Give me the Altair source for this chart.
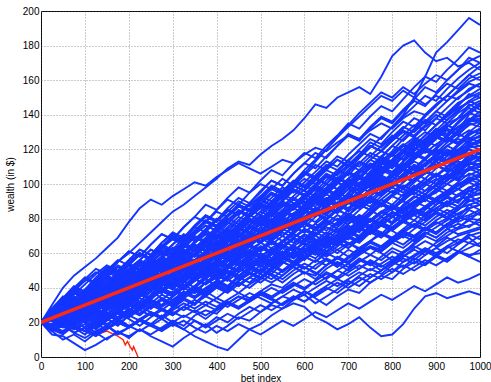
import altair as alt
import pandas as pd

# bet index sample points (every 25 bets)
BET_INDEX = [0, 25, 50, 75, 100, 125, 150, 175, 200, 225, 250, 275, 300, 325, 350,
             375, 400, 425, 450, 475, 500, 525, 550, 575, 600, 625, 650, 675, 700,
             725, 750, 775, 800, 825, 850, 875, 900, 925, 950, 975, 1000]

# wealth paths (blue walks)
T1 = [20,24,29,27,33, 38,36,43,47,45, 52,55,53,60,58, 64,69,66,72,78, 76,83,88,86,93, 98,104,101,108,115, 121,127,133,140,150, 162,176,182,189,196, 192]
T2 = [20,27,33,38,44, 49,47,55,60,66, 72,78,84,88,93, 98,103,109,113,111, 117,122,126,131,138, 146,144,150,153,156, 152,162,174,180,183, 176,171,173,168,170, 166]
T3 = [20,30,40,47,52, 57,63,69,78,86, 91,88,93,97,101, 99,104,108,112,109, 106,110,114,112,117, 121,119,124,128,126, 131,135,132,138,142, 140,146,151,149,155, 158]
B1 = [20,16,19,14,11, 15,18,14,17,21, 18,15,19,16,12, 9,6,4,10,16, 19,24,28,31,29, 23,20,16,19,23, 17,12,13,19,28, 35,37,34,36,38, 36]
L1 = [20,13,12,8,4, 7,11,14,12,16, 13,17,21,18,24, 27,25,31,35,33, 38,42,40,45,49, 47,53,57,55,61, 64,62,67,71,69, 74,72,77,81,79, 84]
L2 = [20,15,10,13,9, 14,10,15,11,16, 12,9,6,11,15, 19,14,18,23,21, 26,30,28,33,36, 31,35,39,44,41, 46,50,55,52,57, 54,59,56,61,58, 55]
L3 = [20,17,21,16,19, 14,18,13,17,22, 19,24,20,16,21, 18,23,20,25,29, 26,31,35,33,38, 34,30,35,39,37, 43,47,45,51,55, 53,58,56,61,59, 60]
L4 = [20,22,18,23,20, 16,21,25,22,18, 23,27,24,29,26, 22,27,31,28,33, 37,34,30,35,32, 37,41,45,42,47, 51,48,53,57,54, 59,63,60,65,69, 64]
W01 = [20,23,19,25,28, 24,29,33,30,35, 38,34,31,36,40, 37,42,45,41,46, 50,47,43,48,52, 49,45,50,54,51, 56,53,49,55,58, 62,59,64,61,66, 64]
W02 = [20,26,31,29,36, 40,37,43,47,44, 41,46,43,39,44, 48,45,41,37,42, 46,43,47,52,49, 45,51,55,52,57, 54,50,55,59,56, 61,58,63,66,71, 68]
W03 = [20,17,22,19,15, 20,24,21,27,31, 28,34,30,35,39, 36,41,38,44,49, 46,51,55,52,48, 53,57,54,50,55, 59,56,61,58,63, 67,64,69,66,70, 72]
W04 = [20,24,21,26,30, 27,23,28,33,37, 34,39,43,48,45, 51,55,52,57,61, 58,54,50,55,52, 48,53,57,54,59, 63,60,56,61,65, 70,67,72,75,79, 76]
W05 = [20,15,19,23,20, 25,22,18,24,28, 33,30,35,40,37, 43,47,44,49,53, 50,56,60,57,62, 59,65,62,58,63, 67,64,69,73,70, 75,72,77,74,80, 79]
W06 = [20,23,27,32,29, 35,40,37,42,39, 45,42,47,52,49, 45,50,46,51,55, 52,57,61,58,63, 60,56,52,57,61, 66,63,68,72,69, 74,78,75,79,85, 82]
W07 = [20,18,14,19,24, 21,26,23,28,25, 30,27,32,37,34, 39,44,41,47,51, 48,54,58,55,61, 66,63,69,65,70, 75,72,68,73,77, 74,79,83,80,88, 85]
W08 = [20,25,30,27,33, 37,42,39,45,50, 47,53,57,54,60, 64,61,57,62,59, 55,60,56,61,66, 63,68,65,70,74, 71,76,73,69,74, 78,83,80,85,91, 88]
W09 = [20,22,19,24,21, 17,22,26,31,28, 34,38,35,41,45, 42,48,52,49,54, 58,55,61,57,62, 67,64,60,65,69, 73,70,75,79,76, 82,86,83,87,93, 90]
W10 = [20,26,31,37,34, 40,46,43,50,55, 52,58,63,60,66, 71,68,74,79,76, 82,79,75,80,77, 73,78,74,70,75, 79,76,81,85,82, 87,84,89,94,90, 92]
W11 = [20,21,25,30,27, 24,29,33,30,36, 40,44,41,47,52, 49,46,51,56,60, 57,53,58,64,61, 66,70,67,73,78, 75,81,77,82,86, 83,88,92,89,96, 94]
W12 = [20,16,21,25,22, 27,31,28,24,29, 34,38,35,41,46, 51,48,53,50,56, 60,57,63,68,65, 61,66,71,68,74, 79,76,81,85,82, 87,91,88,94,98, 96]
W13 = [20,24,28,25,31, 36,33,38,43,47, 44,49,54,58,56, 61,66,63,69,74, 79,76,82,86,90, 87,92,89,84,88, 85,81,86,90,87, 92,95,100,97,101, 98]
W14 = [20,19,23,20,26, 31,35,32,37,42, 39,44,40,36,41, 38,34,39,43,40, 45,50,47,53,58, 55,61,66,63,69, 74,71,77,82,79, 85,90,94,97,103, 100]
W15 = [20,27,24,29,35, 32,37,42,39,35, 40,44,41,46,51, 48,53,57,54,59, 64,61,67,71,68, 74,79,76,81,78, 84,88,85,91,95, 92,97,94,99,104, 102]
W16 = [20,23,20,16,21, 25,22,27,32,29, 35,40,37,43,48, 45,51,56,53,58, 63,60,66,71,68, 74,71,77,82,79, 84,89,86,92,97, 94,99,96,101,106, 104]
W17 = [20,25,29,34,31, 37,41,38,44,49, 53,57,54,60,65, 62,67,64,60,65, 61,66,63,59,64, 68,65,71,76,73, 79,84,81,87,92, 96,99,102,107,109, 106]
W18 = [20,18,22,27,24, 29,34,38,35,41, 38,43,47,44,50, 55,52,58,63,60, 66,71,67,73,77, 74,80,85,82,88, 85,91,96,93,98, 103,100,105,102,110, 108]
W19 = [20,23,28,32,37, 34,40,45,42,48, 53,50,56,61,58, 64,60,66,71,68, 73,78,75,81,85, 82,88,84,89,94, 91,96,101,98,103, 100,105,109,106,112, 110]
W20 = [20,16,20,17,13, 18,22,19,24,21, 26,23,28,33,30, 36,41,38,44,49, 46,52,57,54,60, 66,63,70,75,72, 79,84,81,88,93, 90,97,102,107,113, 111]
W21 = [20,28,33,30,37, 42,39,46,51,48, 54,51,57,62,59, 56,62,59,65,70, 67,73,70,76,81, 78,84,89,86,92, 89,95,100,97,103, 108,105,110,115,118, 113]
W22 = [20,22,26,23,29, 33,30,36,40,37, 43,48,45,51,56, 53,59,64,61,67, 72,69,75,80,77, 83,79,85,90,87, 93,98,95,101,106, 103,109,113,110,117, 115]
W23 = [20,17,21,26,31, 28,33,38,35,41, 46,43,49,54,51, 57,62,59,65,70, 67,73,78,75,81, 86,83,89,94,91, 97,94,100,105,102, 108,113,110,115,120, 117]
W24 = [20,27,34,31,38, 44,41,48,53,50, 57,62,59,65,71, 76,73,79,85,82, 88,94,91,97,93, 99,95,101,98,94, 99,104,101,97,102, 107,111,108,114,120, 118]
W25 = [20,24,21,26,31, 36,33,29,34,39, 44,41,47,52,49, 55,61,58,64,69, 66,72,77,74,80, 86,83,89,94,91, 97,103,100,106,111, 108,114,118,115,122, 120]
W26 = [20,25,22,28,33, 30,36,41,46,43, 49,54,51,57,62, 59,65,61,67,72, 69,75,80,77,83, 89,86,92,97,94, 100,105,102,108,113, 110,116,120,117,124, 122]
W27 = [20,21,26,30,27, 33,38,35,41,45, 42,48,53,50,56, 61,58,64,70,67, 73,78,75,81,87, 84,90,95,92,98, 103,100,106,112,109, 115,119,116,122,127, 124]
W28 = [20,18,15,20,25, 22,27,32,29,35, 40,37,43,48,45, 51,56,53,59,65, 62,68,74,71,77, 83,80,86,92,89, 95,101,98,104,110, 107,113,118,115,122, 125]
W29 = [20,26,31,37,34, 40,46,43,49,54, 51,57,63,60,66, 71,68,74,70,76, 81,78,84,89,86, 92,97,94,100,105, 102,108,113,110,116, 121,118,124,129,126, 127]
W30 = [20,23,27,24,30, 35,32,38,44,41, 47,52,49,55,60, 57,63,69,66,72, 77,74,80,86,83, 89,94,91,97,103, 100,106,111,108,114, 119,116,122,127,131, 129]
W31 = [20,19,24,29,26, 32,37,42,39,45, 50,47,53,58,55, 61,67,64,70,75, 72,78,84,81,87, 92,89,95,101,98, 104,110,107,113,118, 115,121,126,123,129, 131]
W32 = [20,28,25,31,38, 35,42,47,44,50, 56,53,60,65,62, 68,73,70,76,82, 79,85,90,87,93, 99,96,102,107,104, 110,115,112,118,123, 120,126,131,128,135, 133]
W33 = [20,24,29,26,32, 38,35,41,47,44, 50,56,53,59,65, 62,68,73,70,76, 82,79,85,91,88, 94,100,97,103,108, 105,111,117,114,120, 125,122,128,133,138, 135]
W34 = [20,22,27,32,29, 35,41,38,44,50, 47,53,59,56,62, 68,65,71,77,74, 80,85,82,88,94, 91,97,103,100,106, 111,108,114,120,117, 123,128,125,131,136, 137]
W35 = [20,27,33,30,36, 42,39,45,51,48, 54,60,57,63,69, 66,72,78,75,81, 87,84,90,96,93, 99,105,102,108,113, 110,116,122,119,125, 130,127,133,138,141, 139]
W36 = [20,25,31,38,35, 41,47,44,51,56, 62,59,65,70,67, 73,79,85,82,88, 93,90,96,101,98, 104,100,106,111,108, 114,119,116,122,127, 124,130,135,138,144, 141]
W37 = [20,16,21,18,23, 27,24,30,35,32, 38,43,40,46,52, 49,55,61,58,65, 71,68,75,81,78, 85,91,88,95,101, 98,105,111,108,115, 121,127,133,138,146, 143]
W38 = [20,28,35,32,39, 46,52,49,56,62, 59,66,71,68,75, 81,78,84,90,87, 93,99,96,102,99, 105,111,108,114,119, 116,113,118,123,120, 126,131,137,142,148, 145]
W39 = [20,23,19,25,30, 27,33,39,36,42, 48,45,51,57,54, 60,66,63,69,75, 72,78,84,81,87, 93,90,96,102,99, 105,111,117,114,120, 126,132,129,136,142, 147]
W40 = [20,26,23,29,35, 41,38,45,51,48, 55,61,58,64,70, 67,74,80,77,83, 89,86,93,99,96, 102,108,105,111,117, 124,121,127,133,130, 136,142,139,145,152, 150]
W41 = [20,22,27,33,30, 36,42,48,45,51, 57,54,60,66,63, 69,75,72,79,85, 82,88,94,91,97, 103,100,107,113,110, 116,122,128,125,131, 137,134,141,147,150, 153]
W42 = [20,24,21,27,32, 29,35,40,37,43, 48,45,51,57,54, 60,66,72,69,76, 82,89,95,101,108, 114,120,127,133,139, 145,151,148,154,150, 146,151,148,153,158, 156]
W43 = [20,27,33,40,46, 43,50,56,53,60, 57,63,69,66,72, 78,75,82,88,85, 92,98,95,101,107, 104,110,116,113,120, 126,123,130,136,133, 140,146,151,157,163, 160]
W44 = [20,25,30,36,42, 48,53,50,56,62, 59,66,72,69,76, 82,79,86,92,89, 96,102,99,106,112, 118,115,122,128,125, 132,138,135,142,148, 145,152,158,155,161, 164]
W45 = [20,23,28,34,31, 37,43,49,46,53, 59,65,62,69,75, 72,79,85,82,89, 95,102,99,106,112, 109,116,122,129,126, 133,139,136,143,149, 156,153,160,166,173, 170]
W46 = [20,26,32,39,45, 51,48,55,61,58, 65,71,68,75,81, 88,85,92,98,95, 102,108,105,112,118, 115,122,128,135,132, 139,145,142,149,156, 162,159,166,172,179, 176]
X01 = [20,25,22,18,24, 29,33,30,27,32, 38,43,40,36,41, 47,52,49,45,50, 56,61,58,64,60, 57,63,68,73,70, 76,81,78,84,89, 94,99,104,110,115, 118]
X02 = [20,27,31,38,35, 41,46,52,49,55, 51,47,53,58,55, 60,57,53,58,62, 59,55,60,64,61, 66,70,67,63,68, 72,77,74,79,84, 81,86,90,87,92, 95]
X03 = [20,16,13,18,15, 19,24,21,26,31, 28,33,38,35,41, 46,51,48,54,59, 64,61,67,72,77, 74,80,85,90,87, 93,98,104,101,107, 112,117,122,119,126, 130]
X04 = [20,23,28,25,31, 27,33,38,34,30, 36,41,46,43,49, 45,41,47,52,57, 54,60,65,62,58, 64,69,66,72,77, 74,79,84,81,87, 92,96,100,104,105, 108]
X05 = [20,26,33,30,37, 43,40,47,53,50, 57,63,60,66,72, 78,84,81,87,85, 91,88,94,99,96, 93,98,104,101,107, 112,109,114,120,126, 123,129,134,131,137, 140]
X06 = [20,24,28,33,30, 26,31,36,41,38, 44,49,46,42,38, 43,48,45,41,46, 51,48,54,59,56, 62,67,64,70,75, 72,78,83,80,86, 91,88,93,97,94, 100]
X07 = [20,18,23,28,25, 31,36,33,29,35, 40,45,42,48,53, 50,56,53,59,64, 70,67,73,78,75, 81,86,83,89,94, 100,97,102,108,105, 111,116,113,119,123, 125]
X08 = [20,23,19,25,30, 27,33,38,35,40, 46,43,49,54,51, 57,62,59,65,70, 67,73,70,66,71, 68,64,69,66,62, 67,72,69,74,79, 76,81,85,82,86, 88]
X09 = [20,25,21,27,33, 30,36,41,38,44, 50,47,53,58,55, 61,67,64,70,76, 73,79,85,82,88, 94,91,97,103,100, 107,113,110,116,122, 128,134,139,144,147, 150]
X10 = [20,22,26,31,28, 34,30,26,31,36, 33,39,44,41,47, 52,49,55,60,57, 63,60,66,71,68, 74,79,76,82,78, 84,89,86,92,97, 94,100,105,102,109, 112]
X11 = [20,28,34,31,38, 44,41,48,54,51, 58,64,61,67,73, 79,76,82,88,85, 91,87,93,89,86, 91,88,94,99,96, 101,98,104,109,106, 111,115,112,118,121, 122]
X12 = [20,15,18,14,17, 21,18,23,27,24, 29,34,31,36,41, 38,44,49,46,52, 57,54,59,64,61, 66,63,68,72,69, 74,78,75,80,84, 81,86,90,87,93, 97]
X13 = [20,24,29,26,32, 37,34,40,45,42, 48,45,51,56,53, 59,64,61,67,72, 69,75,81,78,84, 90,87,93,99,96, 102,108,105,111,117, 114,120,126,123,130, 135]
X14 = [20,23,27,24,29, 33,30,35,32,37, 41,38,43,39,44, 48,45,50,47,52, 56,53,49,54,58, 55,60,57,62,59, 64,61,66,70,67, 72,69,74,77,75, 80]
X15 = [20,17,22,19,24, 21,27,32,29,35, 41,38,44,50,47, 54,60,57,63,69, 66,73,79,76,83, 89,86,93,99,96, 103,109,106,113,119, 125,131,128,135,141, 145]
X16 = [20,25,30,27,23, 28,33,38,35,41, 46,43,48,54,51, 56,61,58,64,69, 66,72,77,74,80, 85,82,88,85,91, 96,93,99,104,101, 107,104,110,113,111, 115]
X17 = [20,21,25,29,26, 31,35,32,37,41, 38,43,48,45,50, 55,52,57,61,58, 63,67,64,69,73, 70,75,72,77,81, 78,83,87,84,89, 93,90,95,99,101, 105]
X18 = [20,26,23,29,34, 40,37,43,48,45, 51,56,53,58,64, 61,66,72,69,74, 80,77,83,88,85, 91,96,93,99,104, 101,107,112,109,115, 120,117,122,126,124, 128]
X19 = [20,24,29,34,39, 36,42,47,44,50, 47,43,48,44,40, 45,41,46,51,48, 53,50,56,61,58, 63,60,66,70,67, 72,76,73,78,82, 79,84,88,85,90, 92]
X20 = [20,22,27,32,29, 35,40,46,43,49, 54,51,57,62,59, 65,70,67,73,78, 84,81,87,92,89, 95,100,97,103,108, 114,111,117,122,119, 125,130,127,133,136, 138]
X21 = [20,19,24,21,26, 31,28,33,38,35, 40,37,43,48,45, 51,56,53,59,64, 61,66,63,69,74, 71,77,82,79,85, 90,87,93,90,96, 100,97,102,106,108, 110]
X22 = [20,24,21,25,30, 35,32,37,42,46, 43,48,53,50,55, 60,57,62,67,64, 69,65,70,75,72, 77,82,79,85,90, 87,93,98,95,101, 106,111,108,114,117, 120]
X23 = [20,26,32,38,35, 42,47,44,51,56, 53,58,55,60,64, 61,66,63,68,65, 70,67,72,69,74, 71,76,80,77,82, 79,84,88,85,90, 87,92,96,93,98, 100]
X24 = [20,23,20,25,30, 35,32,38,43,40, 46,51,57,54,60, 65,62,68,74,71, 77,83,80,86,92, 89,95,101,98,104, 110,107,113,119,116, 122,128,125,131,137, 142]
X25 = [20,18,22,19,23, 20,25,22,27,31, 28,33,29,34,38, 35,40,37,42,46, 43,48,45,50,54, 51,56,53,58,62, 59,64,68,65,70, 74,71,76,80,82, 85]
X26 = [20,25,29,34,31, 37,33,39,44,41, 47,52,49,55,51, 57,62,59,65,70, 67,73,78,75,81, 86,83,89,94,91, 97,102,99,105,110, 107,113,118,115,121, 126]
X27 = [20,22,27,24,30, 35,41,38,44,50, 47,53,59,56,62, 67,64,70,75,72, 78,74,79,76,72, 77,73,78,83,80, 86,91,88,94,99, 96,102,106,103,109, 112]
X28 = [20,17,21,26,23, 29,34,31,37,42, 39,45,51,48,54, 59,56,62,68,65, 71,76,73,79,85, 82,88,93,90,96, 102,99,105,111,108, 114,120,117,123,128, 132]
X29 = [20,24,28,25,30, 34,31,36,33,38, 42,39,44,48,45, 50,47,52,56,53, 58,62,59,55,60, 64,61,66,70,67, 72,69,74,78,75, 80,84,81,86,88, 90]
X30 = [20,16,19,23,20, 17,22,26,23,28, 33,30,35,40,37, 43,48,45,51,56, 53,59,64,61,67, 72,69,75,80,77, 83,88,85,91,96, 101,106,103,109,114, 118]
X31 = [20,25,22,27,32, 29,35,31,36,41, 45,42,47,52,49, 54,59,56,61,57, 62,67,64,69,66, 71,75,72,77,82, 79,84,81,86,90, 94,91,96,100,102, 104]
X32 = [20,27,34,40,37, 44,50,47,54,60, 57,64,70,67,73, 79,76,82,88,85, 91,97,94,100,106, 103,109,114,111,117, 122,119,125,130,127, 133,138,135,141,145, 148]
X33 = [20,23,18,22,26, 23,28,25,30,34, 31,36,33,38,35, 40,44,41,46,43, 48,45,50,54,51, 56,53,58,55,60, 64,61,66,63,68, 72,69,74,71,73, 75]
X34 = [20,26,31,28,34, 39,36,41,46,43, 48,53,50,55,60, 57,62,59,64,69, 66,71,76,73,78, 75,80,85,82,87, 92,89,94,99,96, 101,106,103,108,113, 116]
X35 = [20,21,17,22,27, 32,29,35,40,37, 43,48,45,51,56, 53,59,65,62,68, 73,70,76,81,78, 84,90,87,93,98, 95,101,106,103,109, 114,111,116,120,122, 124]
X36 = [20,24,29,26,22, 27,31,28,33,37, 34,39,43,40,45, 49,46,51,55,52, 57,54,59,63,60, 65,69,66,71,75, 72,77,81,78,83, 87,84,89,93,96, 98]
X37 = [20,25,31,28,34, 40,37,43,49,46, 52,49,55,61,58, 64,70,67,73,79, 76,82,88,85,91, 97,94,100,106,103, 109,115,112,118,124, 121,127,132,129,134, 136]
X38 = [20,24,27,32,29, 35,40,37,43,48, 45,51,56,53,59, 64,61,67,72,69, 75,80,77,83,88, 85,90,95,92,88, 93,89,94,99,96, 101,105,102,108,111, 114]
X39 = [20,19,23,28,25, 31,36,33,38,43, 40,46,51,48,54, 59,56,62,67,64, 70,76,73,79,84, 81,87,92,89,95, 101,98,104,109,106, 112,117,114,120,125, 128]
X40 = [20,23,26,22,27, 31,28,34,39,36, 41,46,43,48,44, 49,54,51,56,61, 58,63,60,65,70, 67,72,69,74,79, 76,81,86,83,88, 93,90,95,100,103, 106]
X41 = [20,17,14,18,15, 12,16,20,17,22, 26,23,29,34,31, 37,43,40,46,52, 49,55,61,58,64, 70,67,73,79,76, 82,88,85,91,97, 103,100,106,111,116, 120]
X42 = [20,26,30,27,32, 36,33,38,42,39, 44,48,45,50,54, 51,56,60,57,62, 66,63,67,64,68, 65,70,74,71,76, 80,77,81,85,82, 86,90,87,91,93, 94]
X43 = [20,22,26,31,28, 34,39,36,42,48, 45,51,57,54,60, 66,63,69,75,72, 78,84,81,87,92, 89,95,101,98,104, 110,107,113,118,115, 121,127,124,130,136, 140]
X44 = [20,27,33,39,36, 43,49,46,53,59, 56,63,69,66,72, 78,75,81,87,84, 90,95,92,98,103, 100,105,102,107,112, 109,114,111,116,121, 118,123,127,124,129, 132]
X45 = [20,21,24,20,24, 28,25,30,34,31, 35,39,36,41,45, 42,46,50,47,51, 55,52,56,60,57, 61,58,62,66,63, 67,71,68,72,76, 73,77,80,78,81, 83]
X46 = [20,28,34,41,38, 45,51,48,55,60, 57,63,68,65,71, 76,73,79,84,81, 86,82,78,83,79, 84,80,85,89,86, 91,88,93,97,94, 99,103,100,105,108, 110]
X47 = [20,24,20,25,29, 26,31,36,33,39, 44,41,47,52,49, 55,60,57,63,69, 66,72,77,74,80, 86,83,89,94,91, 97,103,100,106,111, 108,114,119,116,122, 125]
X48 = [20,17,21,18,22, 19,23,27,24,28, 32,29,33,37,34, 38,42,39,44,48, 45,50,55,52,57, 62,59,64,69,66, 72,77,74,80,85, 82,88,93,90,97, 102]
X49 = [20,26,23,29,35, 32,38,44,41,47, 53,50,56,62,59, 65,71,68,74,80, 77,83,89,86,92, 98,95,101,107,104, 110,116,113,119,125, 122,128,134,131,140, 146]
X50 = [20,23,28,33,30, 36,41,38,44,49, 46,52,57,54,60, 65,62,68,64,70, 75,72,78,83,80, 86,82,88,93,90, 96,101,98,104,109, 106,111,107,112,114, 116]
Y01 = [20,16,19,14,17, 13,17,21,18,15, 19,16,20,24,21, 17,21,25,22,26, 30,27,31,35,32, 36,40,37,42,46, 43,47,51,48,52, 56,53,57,61,58, 62]
Y02 = [20,22,18,21,17, 20,24,21,25,29, 26,23,27,31,28, 32,29,33,37,34, 38,35,39,43,40, 44,48,45,49,53, 50,54,58,55,59, 63,60,64,68,66, 70]
Y03 = [20,23,19,22,26, 23,19,22,18,21, 25,22,18,21,17, 14,18,15,19,16, 13,17,21,18,22, 26,23,27,31,28, 32,36,33,37,41, 38,42,46,43,45, 48]
Y04 = [20,18,21,25,22, 19,23,26,23,27, 24,28,25,29,33, 30,27,31,35,32, 36,40,37,41,45, 42,46,50,47,51, 55,52,56,60,64, 61,66,70,74,76, 78]
Y05 = [20,24,27,24,28, 25,22,26,30,27, 31,28,25,29,26, 30,34,31,28,32, 36,33,30,34,38, 35,39,43,40,44, 48,45,49,53,50, 54,58,55,60,63, 66]
Y06 = [20,17,14,18,15, 19,16,20,17,21, 18,22,26,23,27, 24,28,32,29,33, 37,34,38,42,39, 44,49,46,51,56, 53,58,63,60,66, 71,75,79,83,86, 88]
Y07 = [20,21,25,22,26, 30,27,31,28,25, 29,33,30,27,31, 35,32,29,33,37, 34,31,35,39,36, 40,44,41,45,49, 46,50,54,58,62, 59,63,67,70,72, 74]
Z01 = [20,23,27,24,29, 33,30,35,40,37, 42,47,44,50,55, 52,58,63,60,66, 72,69,75,81,87, 84,91,97,103,100, 107,113,119,126,132, 139,145,151,157,163, 168]
Z02 = [20,26,31,28,34, 40,45,42,48,54, 51,57,63,60,66, 72,69,75,81,78, 84,90,87,93,99, 96,102,108,105,112, 118,115,122,128,134, 131,138,144,150,154, 158]
Z03 = [20,24,29,35,32, 38,44,41,47,53, 50,57,63,60,67, 73,70,77,84,81, 88,95,92,99,106, 113,120,127,134,141, 147,153,150,156,152, 158,163,160,166,171, 174]
Z04 = [20,22,26,31,37, 34,40,46,43,49, 55,52,58,64,61, 67,73,70,76,82, 88,85,91,97,94, 100,106,103,110,116, 122,119,126,132,138, 135,142,148,154,159, 162]
Z05 = [20,17,21,18,22, 26,23,28,33,30, 36,42,39,45,51, 48,54,60,57,64, 70,67,74,80,77, 84,90,87,94,100, 106,112,109,116,122, 128,134,140,146,151, 155]
Z06 = [20,27,32,38,35, 41,47,53,50,56, 62,59,65,71,68, 74,80,77,83,89, 86,92,98,95,101, 107,113,110,117,123, 129,126,133,139,145, 151,148,155,161,166, 170]
Z07 = [20,26,33,39,45, 42,49,55,61,58, 65,71,68,75,81, 78,85,91,88,95, 100,97,103,99,105, 111,108,114,110,116, 122,119,125,131,128, 134,140,137,143,148, 152]

BLUE_WALKS = [B1, L1, L2, L3, L4, Y01, Y02, Y03, Y04, Y05, Y06, Y07,
              W01, W02, W03, W04, W05, W06, W07, W08, W09, W10,
              W11, W12, W13, W14, W15, W16, W17, W18, W19, W20, W21, W22, W23, W24,
              W25, W26, W27, W28, W29, W30, W31, W32, W33, W34, W35, W36, W37, W38,
              W39, W40, W41, W42, W43, W44, W45, W46,
              X01, X02, X03, X04, X05, X06, X07, X08, X09, X10, X11, X12, X13, X14,
              X15, X16, X17, X18, X19, X20, X21, X22, X23, X24, X25, X26, X27, X28,
              X29, X30, X31, X32, X33, X34, X35, X36, X37, X38, X39, X40, X41, X42,
              X43, X44, X45, X46, X47, X48, X49, X50,
              Z01, Z02, Z03, Z04, Z05, Z06, Z07, T1, T2, T3]

# the ruined (red) walk
RUIN_INDEX = [0, 25, 50, 75, 100, 125, 150, 175, 187, 192, 197, 203, 208, 211, 216, 221]
RUIN_WEALTH = [20, 17, 14, 17, 15, 13, 15, 12, 10, 7, 9, 6, 4, 6, 3, 0]

# expected wealth line
MEAN_INDEX = [0, 1000]
MEAN_WEALTH = [20, 120]

X_TICKS = [0, 100, 200, 300, 400, 500, 600, 700, 800, 900, 1000]
Y_TICKS = [0, 20, 40, 60, 80, 100, 120, 140, 160, 180, 200]

rows = []
for n, w in enumerate(BLUE_WALKS):
    for i, v in zip(BET_INDEX, w):
        rows.append({"walk": n, "bet": i, "wealth": v})
blue_df = pd.DataFrame(rows)
ruin_df = pd.DataFrame({"bet": RUIN_INDEX, "wealth": RUIN_WEALTH})
mean_df = pd.DataFrame({"bet": MEAN_INDEX, "wealth": MEAN_WEALTH})

FONT = "Liberation Sans"
xscale = alt.Scale(domain=[0, 1000], nice=False, zero=False)
yscale = alt.Scale(domain=[0, 200], nice=False, zero=False)
xaxis = alt.Axis(values=X_TICKS, format="d", grid=True, ticks=False, domain=False,
                 labelFlush=False, labelOverlap=False, labelPadding=4,
                 title="bet index", titlePadding=2)
yaxis = alt.Axis(values=Y_TICKS, format="d", grid=True, ticks=False, domain=False,
                 labelFlush=False, labelOverlap=False, labelPadding=2,
                 title="wealth (in $)", titlePadding=7)

X = alt.X("bet:Q", scale=xscale, axis=xaxis)
Y = alt.Y("wealth:Q", scale=yscale, axis=yaxis)

ruin = alt.Chart(ruin_df).mark_line(color="#ff2010", strokeWidth=1.4, clip=True).encode(
    x=X, y=Y,
)
blue = alt.Chart(blue_df).mark_line(color="#1434ff", strokeWidth=1.9, clip=True).encode(
    x=X, y=Y, detail="walk:N",
)
mean = alt.Chart(mean_df).mark_line(color="#ff2a10", strokeWidth=3.6, clip=True).encode(
    x=X, y=Y,
)

chart = alt.layer(ruin, blue, mean).properties(
    width=439, height=346,
    autosize=alt.AutoSizeParams(type="none"),
    padding={"left": 41, "top": 11, "right": 11, "bottom": 25},
    background="white",
).configure_view(
    stroke="black", strokeWidth=1
).configure_axis(
    labelFont=FONT, labelFontSize=10, labelColor="black",
    titleFont=FONT, titleFontSize=10, titleFontWeight="normal", titleColor="black",
    gridColor="#555555", gridDash=[1, 2], gridOpacity=0.6, gridWidth=1,
)

chart.save("out.html", embed_options={"renderer": "svg", "actions": False})
